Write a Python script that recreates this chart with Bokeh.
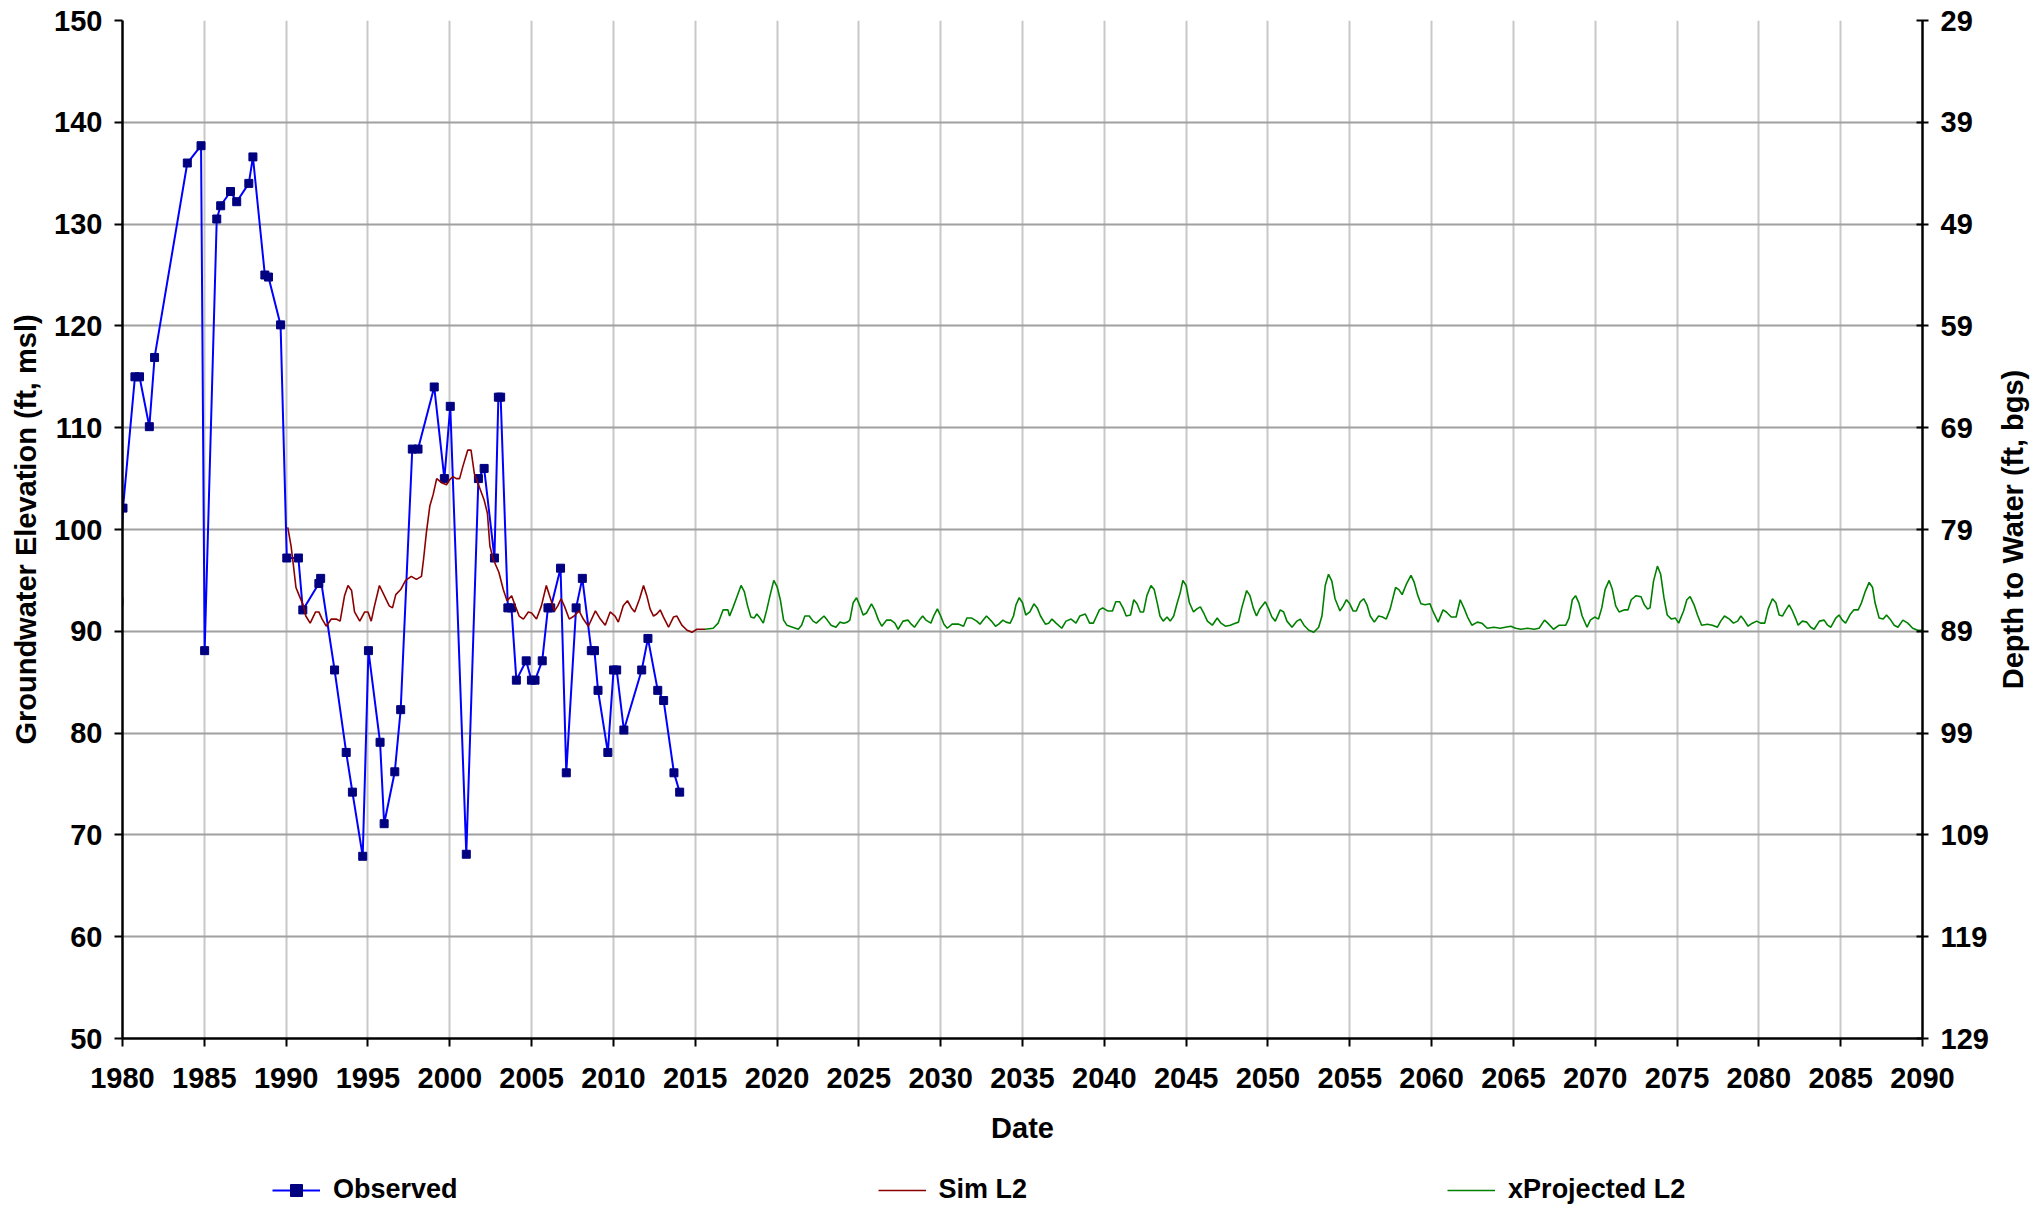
import math
from bokeh.plotting import figure
from bokeh.layouts import column, row
from bokeh.models import Range1d, LinearAxis, FixedTicker, Legend, LegendItem, Label
from bokeh.embed import file_html
from bokeh.resources import INLINE

# ---------------- data ----------------
obs_year = [1979.54, 1979.78, 1980.03, 1980.76, 1981.04, 1981.64, 1981.96, 1983.96, 1984.80, 1985.02,
            1985.76, 1986.00, 1986.60, 1986.98, 1987.72, 1987.97, 1988.70, 1988.92, 1989.66, 1990.04,
            1990.75, 1991.02, 1992.00, 1992.11, 1992.96, 1993.67, 1994.05, 1994.68, 1995.03, 1995.74,
            1995.99, 1996.64, 1997.00, 1997.71, 1998.06, 1999.05, 1999.67, 2000.03, 2001.01, 2001.75,
            2002.10, 2002.73, 2002.97, 2003.11, 2003.55, 2003.77, 2004.07, 2004.67, 2004.99, 2005.21,
            2005.65, 2006.00, 2006.17, 2006.77, 2007.12, 2007.72, 2008.10, 2008.65, 2008.84, 2009.06,
            2009.66, 2010.01, 2010.20, 2010.64, 2011.73, 2012.11, 2012.71, 2013.07, 2013.70, 2014.05]
obs_elev = [94.1, 92.9, 102.1, 115.0, 115.0, 110.1, 116.9, 136.0, 137.7, 88.1,
            130.5, 131.8, 133.2, 132.2, 134.0, 136.6, 125.0, 124.8, 120.1, 97.2,
            97.2, 92.1, 94.7, 95.2, 86.2, 78.1, 74.2, 67.9, 88.1, 79.1,
            71.1, 76.2, 82.3, 107.9, 107.9, 114.0, 105.0, 112.1, 68.1, 105.0,
            106.0, 97.2, 113.0, 113.0, 92.3, 92.3, 85.2, 87.1, 85.2, 85.2,
            87.1, 92.3, 92.3, 96.2, 76.1, 92.3, 95.2, 88.1, 88.1, 84.2,
            78.1, 86.2, 86.2, 80.3, 86.2, 89.3, 84.2, 83.2, 76.1, 74.2]

sim_points = [
    (1990.1, 100.2), (1990.3, 98.4), (1990.45, 96.4), (1990.6, 94.3), (1990.8, 93.5), (1991.06, 92.5),
    (1991.2, 91.5), (1991.47, 90.8), (1991.8, 91.9), (1992.0, 91.9), (1992.2, 91.2), (1992.45, 90.5),
    (1992.76, 91.2), (1993.06, 91.2), (1993.3, 91.0), (1993.57, 93.5), (1993.78, 94.5), (1994.0, 94.0),
    (1994.18, 91.9), (1994.5, 91.0), (1994.8, 91.9), (1995.0, 91.9), (1995.2, 91.0), (1995.4, 92.5),
    (1995.7, 94.5), (1996.0, 93.5), (1996.3, 92.5), (1996.5, 92.3), (1996.7, 93.6), (1997.0, 94.1),
    (1997.3, 95.0), (1997.65, 95.4), (1997.96, 95.1), (1998.27, 95.4), (1998.4, 97.1), (1998.57, 99.7),
    (1998.78, 102.3), (1998.98, 103.4), (1999.2, 105.0), (1999.5, 104.6), (1999.8, 104.4), (2000.0, 104.9),
    (2000.2, 105.2), (2000.4, 105.0), (2000.6, 105.0), (2000.8, 106.2), (2001.1, 107.8), (2001.3, 107.8),
    (2001.5, 105.5), (2001.8, 104.2), (2002.1, 102.9), (2002.3, 101.6), (2002.45, 98.4), (2002.65, 97.1),
    (2003.0, 95.8), (2003.27, 94.1), (2003.5, 93.0), (2003.78, 93.5), (2004.0, 92.5), (2004.24, 91.5),
    (2004.5, 91.2), (2004.8, 91.9), (2005.0, 91.8), (2005.3, 91.2), (2005.6, 92.5), (2005.9, 94.5),
    (2006.1, 93.5), (2006.4, 92.0), (2006.6, 92.5), (2006.8, 93.2), (2007.0, 92.5), (2007.3, 91.2),
    (2007.6, 91.5), (2007.9, 92.0), (2008.16, 91.2), (2008.47, 90.5), (2008.9, 92.0), (2009.2, 91.2),
    (2009.5, 90.6), (2009.8, 91.9), (2010.1, 91.5), (2010.3, 90.9), (2010.6, 92.5), (2010.86, 93.0),
    (2011.1, 92.3), (2011.3, 91.9), (2011.6, 93.2), (2011.84, 94.5), (2012.04, 93.5), (2012.24, 92.2),
    (2012.45, 91.5), (2012.65, 91.7), (2012.86, 92.1), (2013.06, 91.4), (2013.37, 90.4), (2013.67, 91.4),
    (2013.88, 91.5), (2014.18, 90.6), (2014.5, 90.1), (2014.8, 89.9), (2015.1, 90.2), (2015.6, 90.2),
]

proj_points = [
    (2015.6, 90.2), (2016.1, 90.3), (2016.4, 90.8), (2016.7, 92.1), (2017.0, 92.1), (2017.1, 91.5),
    (2017.3, 92.3), (2017.55, 93.4), (2017.8, 94.5), (2018.0, 93.9), (2018.2, 92.5), (2018.4, 91.4),
    (2018.6, 91.3), (2018.76, 91.7), (2018.96, 91.3), (2019.16, 90.8), (2019.37, 92.1), (2019.57, 93.5),
    (2019.8, 95.0), (2020.0, 94.4), (2020.2, 93.1), (2020.4, 91.1), (2020.6, 90.6), (2020.95, 90.4),
    (2021.3, 90.2), (2021.5, 90.6), (2021.7, 91.5), (2021.97, 91.5), (2022.2, 91.0), (2022.4, 90.8),
    (2022.6, 91.1), (2022.87, 91.5), (2023.07, 91.1), (2023.3, 90.6), (2023.6, 90.4), (2023.84, 90.9),
    (2024.08, 90.8), (2024.3, 90.9), (2024.45, 91.1), (2024.65, 92.8), (2024.86, 93.3), (2025.06, 92.5),
    (2025.26, 91.6), (2025.47, 91.8), (2025.77, 92.7), (2025.97, 92.1), (2026.2, 91.1), (2026.4, 90.5),
    (2026.7, 91.1), (2026.96, 91.1), (2027.2, 90.8), (2027.4, 90.2), (2027.7, 91.0), (2028.0, 91.1),
    (2028.2, 90.7), (2028.4, 90.4), (2028.7, 91.1), (2028.9, 91.5), (2029.1, 91.1), (2029.4, 90.8),
    (2029.6, 91.6), (2029.8, 92.2), (2030.0, 91.5), (2030.2, 90.7), (2030.4, 90.3), (2030.7, 90.7),
    (2031.1, 90.7), (2031.4, 90.5), (2031.6, 91.3), (2031.9, 91.3), (2032.2, 91.0), (2032.4, 90.7),
    (2032.6, 91.1), (2032.8, 91.5), (2033.1, 91.0), (2033.35, 90.5), (2033.55, 90.7), (2033.8, 91.1),
    (2034.0, 90.9), (2034.25, 90.8), (2034.45, 91.5), (2034.6, 92.6), (2034.8, 93.3), (2035.0, 92.8),
    (2035.2, 91.6), (2035.45, 91.9), (2035.7, 92.7), (2035.9, 92.3), (2036.1, 91.5), (2036.4, 90.7),
    (2036.6, 90.8), (2036.8, 91.2), (2037.05, 90.8), (2037.4, 90.3), (2037.66, 91.0), (2037.97, 91.2),
    (2038.27, 90.8), (2038.5, 91.5), (2038.84, 91.7), (2039.1, 90.8), (2039.33, 90.8), (2039.53, 91.5),
    (2039.7, 92.1), (2039.9, 92.3), (2040.2, 92.0), (2040.5, 92.0), (2040.7, 92.9), (2040.94, 92.9),
    (2041.14, 92.3), (2041.34, 91.5), (2041.6, 91.6), (2041.8, 93.1), (2042.0, 92.7), (2042.2, 91.9),
    (2042.4, 91.9), (2042.6, 93.5), (2042.85, 94.5), (2043.05, 94.1), (2043.26, 92.6), (2043.4, 91.5),
    (2043.6, 91.0), (2043.83, 91.4), (2044.03, 91.0), (2044.24, 91.5), (2044.44, 92.7), (2044.64, 93.8),
    (2044.8, 95.0), (2045.0, 94.5), (2045.2, 92.8), (2045.45, 91.9), (2045.66, 92.2), (2045.87, 92.4),
    (2046.1, 91.7), (2046.3, 91.0), (2046.6, 90.6), (2046.9, 91.3), (2047.13, 90.8), (2047.4, 90.5),
    (2047.7, 90.6), (2048.0, 90.8), (2048.2, 90.9), (2048.4, 92.3), (2048.7, 94.0), (2048.9, 93.5),
    (2049.1, 92.3), (2049.3, 91.5), (2049.5, 92.2), (2049.84, 92.9), (2050.04, 92.2), (2050.24, 91.4),
    (2050.45, 91.0), (2050.75, 92.1), (2050.96, 91.9), (2051.16, 91.0), (2051.47, 90.4), (2051.77, 91.0),
    (2051.98, 91.2), (2052.2, 90.6), (2052.5, 90.1), (2052.8, 89.9), (2053.1, 90.4), (2053.3, 91.5),
    (2053.5, 94.5), (2053.7, 95.6), (2053.9, 94.95), (2054.1, 93.2), (2054.4, 92.0), (2054.6, 92.5),
    (2054.8, 93.1), (2055.0, 92.7), (2055.2, 92.0), (2055.4, 92.0), (2055.64, 92.9), (2055.85, 93.2),
    (2056.05, 92.6), (2056.25, 91.5), (2056.5, 90.9), (2056.76, 91.5), (2057.0, 91.4), (2057.23, 91.2),
    (2057.47, 92.2), (2057.8, 94.3), (2058.0, 94.1), (2058.2, 93.6), (2058.45, 94.6), (2058.74, 95.5),
    (2058.94, 94.8), (2059.14, 93.6), (2059.35, 92.7), (2059.6, 92.6), (2059.9, 92.7), (2060.1, 91.9),
    (2060.4, 90.9), (2060.7, 92.1), (2060.9, 91.9), (2061.2, 91.4), (2061.5, 91.4), (2061.75, 93.1),
    (2062.0, 92.2), (2062.2, 91.4), (2062.46, 90.6), (2062.8, 90.9), (2063.07, 90.8), (2063.4, 90.3),
    (2063.8, 90.4), (2064.2, 90.3), (2064.5, 90.4), (2064.84, 90.5), (2065.14, 90.3), (2065.45, 90.2),
    (2065.86, 90.3), (2066.26, 90.2), (2066.57, 90.3), (2066.9, 91.1), (2067.1, 90.8), (2067.45, 90.2),
    (2067.8, 90.6), (2068.2, 90.6), (2068.4, 91.3), (2068.6, 93.1), (2068.8, 93.5), (2069.0, 92.8),
    (2069.2, 91.5), (2069.5, 90.4), (2069.7, 91.1), (2069.97, 91.4), (2070.2, 91.2), (2070.4, 92.3),
    (2070.6, 94.1), (2070.85, 95.0), (2071.05, 94.1), (2071.25, 92.5), (2071.46, 91.9), (2071.76, 92.1),
    (2072.0, 92.1), (2072.2, 93.1), (2072.5, 93.5), (2072.8, 93.4), (2073.0, 92.6), (2073.2, 92.2),
    (2073.35, 92.3), (2073.56, 94.9), (2073.8, 96.4), (2074.0, 95.6), (2074.2, 93.3), (2074.4, 91.6),
    (2074.66, 91.2), (2074.9, 91.3), (2075.1, 90.8), (2075.4, 92.0), (2075.6, 93.1), (2075.8, 93.4),
    (2076.04, 92.6), (2076.25, 91.6), (2076.5, 90.6), (2076.86, 90.7), (2077.16, 90.6), (2077.47, 90.4),
    (2077.67, 91.0), (2077.9, 91.5), (2078.2, 91.2), (2078.45, 90.8), (2078.7, 91.0), (2078.9, 91.5),
    (2079.1, 91.1), (2079.34, 90.5), (2079.6, 90.8), (2079.87, 91.0), (2080.1, 90.8), (2080.36, 90.8),
    (2080.57, 92.2), (2080.83, 93.2), (2081.04, 92.8), (2081.24, 91.6), (2081.44, 91.5), (2081.65, 92.1),
    (2081.85, 92.6), (2082.05, 92.0), (2082.26, 91.2), (2082.4, 90.6), (2082.66, 91.0), (2082.93, 90.9),
    (2083.17, 90.4), (2083.38, 90.2), (2083.7, 91.0), (2083.99, 91.1), (2084.2, 90.6), (2084.4, 90.4),
    (2084.7, 91.3), (2084.9, 91.6), (2085.1, 91.1), (2085.3, 90.8), (2085.6, 91.7), (2085.8, 92.1),
    (2086.07, 92.1), (2086.27, 92.8), (2086.5, 93.9), (2086.74, 94.8), (2086.95, 94.3), (2087.1, 92.8),
    (2087.35, 91.3), (2087.6, 91.2), (2087.8, 91.6), (2088.06, 91.1), (2088.27, 90.6), (2088.5, 90.4),
    (2088.8, 91.1), (2089.1, 90.8), (2089.4, 90.3), (2089.7, 90.1), (2090.0, 90.1),
]
sim_year = [a for a, _ in sim_points]
sim_elev = [b for _, b in sim_points]
proj_year = [a for a, _ in proj_points]
proj_elev = [b for _, b in proj_points]

year_ticks = [1980, 1985, 1990, 1995, 2000, 2005, 2010, 2015, 2020, 2025, 2030, 2035,
              2040, 2045, 2050, 2055, 2060, 2065, 2070, 2075, 2080, 2085, 2090]
elev_ticks = [50, 60, 70, 80, 90, 100, 110, 120, 130, 140, 150]
depth_ticks = [29, 39, 49, 59, 69, 79, 89, 99, 109, 119, 129]

FONT = "Liberation Sans"
TICK_SIZE = "29px"
TITLE_SIZE = "29px"

OBS_LINE = "#0000ff"
OBS_MARK = "#000080"
SIM_COLOR = "#8b0000"
PROJ_COLOR = "#008000"

# ---------------- sizes ----------------
W = 2031
W_TITLE = 38                 # strip on the right carrying the right-axis title
W_MAIN = W - W_TITLE
H_MAIN = 1170
H_LEG = 35
FRAME_TOP = 20
FRAME_BOTTOM = 1038
FRAME_LEFT = 122

# ---------------- main figure ----------------
p = figure(width=W_MAIN, height=H_MAIN, output_backend="svg", toolbar_location=None,
           x_range=Range1d(1980, 2090), y_range=Range1d(50, 150),
           min_border_left=FRAME_LEFT, min_border_right=W_MAIN - 1922, min_border_top=FRAME_TOP,
           min_border_bottom=H_MAIN - FRAME_BOTTOM)
p.outline_line_color = None
p.background_fill_color = "white"
p.border_fill_color = "white"
p.extra_y_ranges = {"depth": Range1d(start=129, end=29)}

p.xaxis.ticker = FixedTicker(ticks=year_ticks)
p.yaxis.ticker = FixedTicker(ticks=elev_ticks)


def style_axis(ax):
    ax.axis_line_color = "black"
    ax.axis_line_width = 2.5
    ax.major_tick_line_color = "black"
    ax.major_tick_line_width = 2
    ax.minor_tick_line_color = None
    ax.major_label_text_font = FONT
    ax.major_label_text_font_style = "bold"
    ax.major_label_text_font_size = TICK_SIZE
    ax.major_label_text_color = "black"
    ax.axis_label_text_font = FONT
    ax.axis_label_text_font_style = "bold"
    ax.axis_label_text_font_size = TITLE_SIZE
    ax.axis_label_text_color = "black"


xa = p.xaxis[0]
ya = p.yaxis[0]
style_axis(xa)
style_axis(ya)

xa.axis_label = "Date"
xa.major_tick_out = 8
xa.major_tick_in = 0
xa.major_label_standoff = 21
xa.axis_label_standoff = 21

ya.axis_label = "Groundwater Elevation (ft, msl)"
ya.major_tick_out = 8
ya.major_tick_in = 0
ya.major_label_standoff = 12
ya.axis_label_standoff = 9

right = LinearAxis(y_range_name="depth", ticker=FixedTicker(ticks=depth_ticks))
style_axis(right)
right.major_tick_out = 6
right.major_tick_in = 6
right.major_label_standoff = 12
p.add_layout(right, "right")

p.xgrid.grid_line_color = "#c8c8c8"
p.xgrid.grid_line_width = 2
p.ygrid.grid_line_color = "#a0a0a0"
p.ygrid.grid_line_width = 2

p.line(obs_year, obs_elev, line_color=OBS_LINE, line_width=2)
p.scatter(obs_year, obs_elev, marker="square", size=8, fill_color=OBS_MARK, line_color=OBS_MARK)
p.line(sim_year, sim_elev, line_color=SIM_COLOR, line_width=1.6)
p.line(proj_year, proj_elev, line_color=PROJ_COLOR, line_width=1.6)

# ---------------- right title strip ----------------
t = figure(width=W_TITLE, height=H_MAIN, output_backend="svg", toolbar_location=None,
           x_axis_type=None, y_axis_type=None, x_range=Range1d(0, 1), y_range=Range1d(0, 1),
           min_border_left=0, min_border_right=0, min_border_top=FRAME_TOP,
           min_border_bottom=H_MAIN - FRAME_BOTTOM)
t.outline_line_color = None
t.background_fill_color = "white"
t.border_fill_color = "white"
t.grid.visible = False
t.add_layout(Label(x=0.5, y=0.5, text="Depth to Water (ft, bgs)", angle=math.pi / 2,
                   text_align="center", text_baseline="middle", text_font=FONT,
                   text_font_style="bold", text_font_size=TITLE_SIZE, text_color="black"))

# ---------------- legend strip ----------------
q = figure(width=W, height=H_LEG, output_backend="svg", toolbar_location=None,
           x_axis_type=None, y_axis_type=None, x_range=Range1d(0, 1), y_range=Range1d(0, 1),
           min_border_left=FRAME_LEFT, min_border_right=0, min_border_top=0, min_border_bottom=0)
q.outline_line_color = None
q.background_fill_color = "white"
q.border_fill_color = "white"
q.grid.visible = False

nan = float("nan")
lg_obs_line = q.line(x=[nan], y=[nan], line_color=OBS_LINE, line_width=2)
lg_obs_pts = q.scatter(x=[nan], y=[nan], marker="square", size=8, fill_color=OBS_MARK, line_color=OBS_MARK)
lg_sim = q.line(x=[nan], y=[nan], line_color=SIM_COLOR, line_width=1.6)
lg_proj = q.line(x=[nan], y=[nan], line_color=PROJ_COLOR, line_width=1.6)

legend = Legend(items=[LegendItem(label="Observed", renderers=[lg_obs_line, lg_obs_pts]),
                       LegendItem(label="Sim L2", renderers=[lg_sim]),
                       LegendItem(label="xProjected L2", renderers=[lg_proj])],
                orientation="horizontal", location=(272 - FRAME_LEFT, 0), spacing=420,
                padding=0, margin=0, glyph_width=48, glyph_height=30, label_height=30,
                label_standoff=13, label_text_font=FONT, label_text_font_style="bold",
                label_text_font_size="27px", label_text_color="black",
                border_line_color=None, background_fill_alpha=0)
q.add_layout(legend)

layout = column(row(p, t, spacing=0), q, spacing=0)
open("out.html", "w").write(file_html(layout, INLINE))
